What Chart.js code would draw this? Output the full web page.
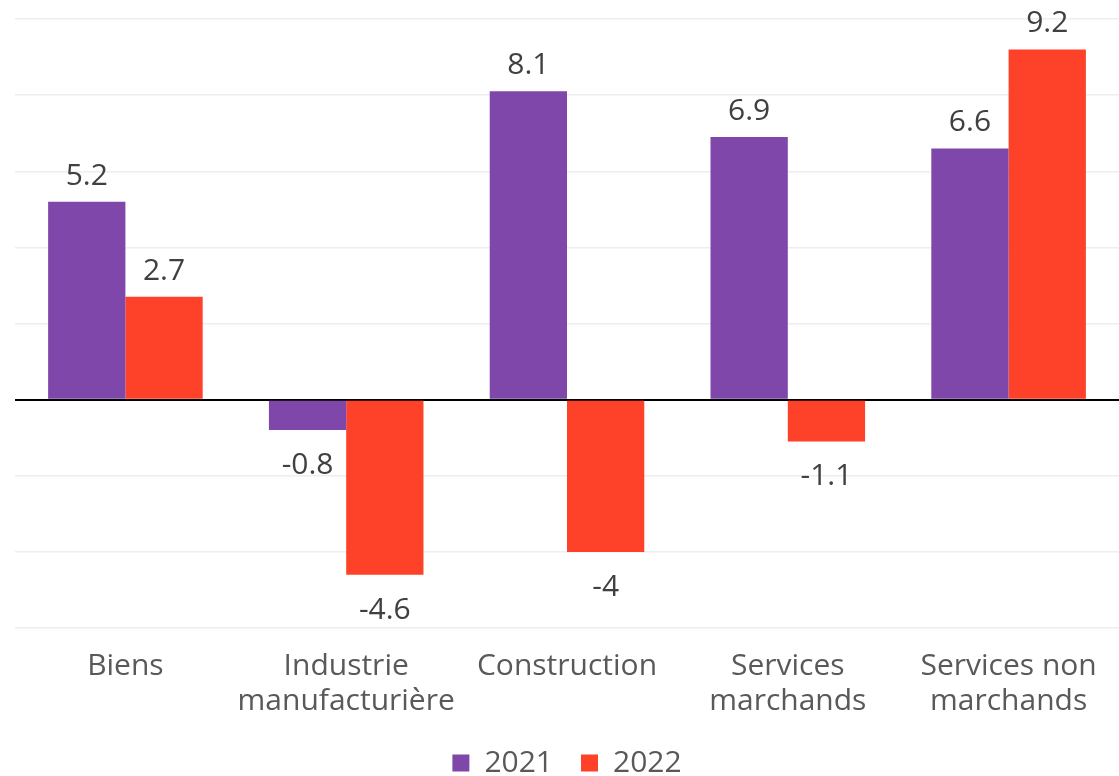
<!DOCTYPE html>
<html>
<head>
<meta charset="utf-8">
<script src="https://cdn.jsdelivr.net/npm/chart.js@4/dist/chart.umd.min.js"></script>
<style>
	html, body { margin: 0; padding: 0; background: #fff; }
	#wrap { width: 1119px; height: 776px; }
</style>
</head>
<body>
<div id="wrap"><canvas id="chart"></canvas></div>
<script>
( function () {
	'use strict';

	var categories = [
		'Biens',
		[ 'Industrie', 'manufacturière' ],
		'Construction',
		[ 'Services', 'marchands' ],
		[ 'Services non', 'marchands' ],
	];
	var values2021 = [ 5.2, -0.8, 8.1, 6.9, 6.6 ];
	var values2022 = [ 2.7, -4.6, -4, -1.1, 9.2 ];
	var seriesNames = [ '2021', '2022' ];

	var purple = '#7e47a9';
	var red = '#fe4129';
	var fontFamily = '"Open Sans", sans-serif';

	// writes the value above positive bars and below negative ones
	var valueLabels = {
		id: 'valueLabels',
		afterDatasetsDraw: function ( chart ) {
			var ctx = chart.ctx;
			ctx.save();
			ctx.font = '30px ' + fontFamily;
			ctx.fillStyle = '#404040';
			ctx.textAlign = 'center';
			ctx.textBaseline = 'alphabetic';
			chart.data.datasets.forEach( function ( ds, i ) {
				chart.getDatasetMeta( i ).data.forEach( function ( bar, j ) {
					var v = ds.data[ j ];
					var y = v >= 0 ? bar.y - 17 : bar.y + 44;
					ctx.fillText( String( v ), bar.x, y );
				} );
			} );
			ctx.restore();
		},
	};

	new Chart( document.getElementById( 'chart' ).getContext( '2d' ), {
		type: 'bar',
		data: {
			labels: categories,
			datasets: [ {
				label: seriesNames[ 0 ],
				data: values2021,
				backgroundColor: purple,
			}, {
				label: seriesNames[ 1 ],
				data: values2022,
				backgroundColor: red,
			} ],
		},
		options: {
			responsive: true,
			maintainAspectRatio: false,
			animation: false,
			categoryPercentage: 0.7,
			barPercentage: 1,
			// legend padding is wide for item spacing, so let it run slightly past the edge
			layout: { padding: { left: 15, top: 19, right: 0, bottom: -12 } },
			plugins: {
				legend: {
					position: 'bottom',
					labels: {
						boxWidth: 17,
						boxHeight: 17,
						padding: 28,
						color: '#595959',
						font: { family: fontFamily, size: 30 },
					},
				},
				tooltip: { enabled: false },
			},
			scales: {
				x: {
					grid: { display: false },
					border: { display: false },
					afterFit: function ( axis ) { axis.height = 92; },
					ticks: {
						color: '#595959',
						padding: 13,
						maxRotation: 0,
						autoSkip: false,
						font: { family: fontFamily, size: 30, lineHeight: 1.17 },
					},
				},
				y: {
					min: -6,
					max: 10,
					border: { display: false },
					ticks: { display: false, stepSize: 2 },
					grid: {
						drawTicks: false,
						color: function ( c ) { return c.tick.value === 0 ? '#000' : '#eeeeee'; },
						lineWidth: function ( c ) { return c.tick.value === 0 ? 2 : 1.5; },
					},
				},
			},
		},
		plugins: [ valueLabels ],
	} );
} )();
</script>
</body>
</html>
